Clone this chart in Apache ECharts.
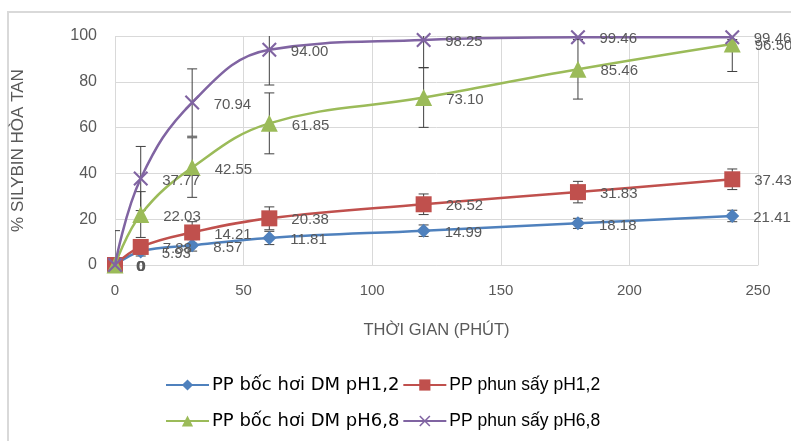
<!DOCTYPE html>
<html>
<head>
<meta charset="utf-8">
<script src="https://cdn.jsdelivr.net/npm/echarts@6/dist/echarts.min.js"></script>
<style>
html, body { margin: 0; padding: 0; background: #fff; }
#main { width: 791px; height: 441px; }
</style>
</head>
<body>
<div id="main"></div>
<script>
var times = [0, 10, 30, 60, 120, 180, 240];
var names = ['PP bốc hơi DM pH1,2', 'PP phun sấy pH1,2', 'PP bốc hơi DM pH6,8', 'PP phun sấy pH6,8'];
var colors = ['#4F81BD', '#C0504D', '#9BBB59', '#8064A2'];
var bocHoi12 = [0, 5.93, 8.57, 11.81, 14.99, 18.18, 21.41];
var phunSay12 = [0, 7.88, 14.21, 20.38, 26.52, 31.83, 37.43];
var bocHoi68 = [0, 22.03, 42.55, 61.85, 73.10, 85.46, 96.50];
var phunSay68 = [0, 37.77, 70.94, 94.00, 98.25, 99.46, 99.46];
var sdBocHoi12 = [0, 2, 2.5, 2.9, 2.5, 2.2, 2.5];
var sdPhunSay12 = [0, 3, 4.7, 5, 4.5, 4.7, 4.5];
var sdBocHoi68 = [15, 10, 13, 13.3, 13, 13, 12];
var sdPhunSay68 = [0, 14, 14.7, 15.4, 12, 1, 1];

var values = [bocHoi12, phunSay12, bocHoi68, phunSay68];
var sds = [sdBocHoi12, sdPhunSay12, sdBocHoi68, sdPhunSay68];
var symbols = [
    'diamond',
    'rect',
    'triangle',
    'path://M0,1L1,0L5,4L9,0L10,1L6,5L10,9L9,10L5,6L1,10L0,9L4,5Z'
];
var symbolSizes = [14, 16, 17, 15];
var font = '"Liberation Sans", Arial, sans-serif';
var wideFont = '"DejaVu Sans", sans-serif';

function pairs(ys) {
    return times.map(function (t, i) { return [t, ys[i]]; });
}

function errData(ys, sd) {
    return times.map(function (t, i) { return [t, ys[i] - sd[i], ys[i] + sd[i]]; });
}

function renderErr(params, api) {
    var lo = api.coord([api.value(0), api.value(1)]);
    var hi = api.coord([api.value(0), api.value(2)]);
    var w = 5;
    var st = { stroke: '#404040', lineWidth: 1 };
    return {
        type: 'group',
        children: [
            { type: 'line', shape: { x1: lo[0], y1: lo[1], x2: hi[0], y2: hi[1] }, style: st },
            { type: 'line', shape: { x1: lo[0] - w, y1: lo[1], x2: lo[0] + w, y2: lo[1] }, style: st },
            { type: 'line', shape: { x1: hi[0] - w, y1: hi[1], x2: hi[0] + w, y2: hi[1] }, style: st }
        ]
    };
}

var series = [];
values.forEach(function (ys, k) {
    series.push({
        type: 'custom',
        renderItem: renderErr,
        data: errData(ys, sds[k]),
        clip: true,
        silent: true,
        z: 1
    });
});
values.forEach(function (ys, k) {
    series.push({
        name: names[k],
        type: 'line',
        data: pairs(ys),
        smooth: 0.4,
        symbol: symbols[k],
        symbolSize: symbolSizes[k],
        showAllSymbol: true,
        color: colors[k],
        lineStyle: { width: 2.5, color: colors[k] },
        itemStyle: { color: colors[k] },
        z: 2 + k,
        label: {
            show: true,
            position: 'right',
            distance: 14,
            offset: [0, 2],
            color: '#595959',
            fontSize: 15,
            fontFamily: font,
            formatter: function (p) {
                return p.value[1] === 0 ? '0' : p.value[1].toFixed(2);
            }
        }
    });
});

function legendItem(i) {
    // the left column of the legend is set in a wider face than the right one
    var wide = i % 2 === 0;
    return {
        name: names[i],
        textStyle: {
            fontSize: wide ? 18 : 17.5,
            fontFamily: wide ? wideFont : font,
            color: '#000'
        }
    };
}

var legendBase = {
    left: 160,
    itemWidth: 43,
    itemHeight: 14,
    itemGap: 3,
    textStyle: { fontSize: 17, color: '#000', fontFamily: font, padding: [0, 0, 0, -2] }
};

var option = {
    animation: false,
    graphic: [{
        type: 'rect',
        shape: { x: 8, y: 12, width: 800, height: 450 },
        style: { fill: 'none', stroke: '#D9D9D9', lineWidth: 2 },
        silent: true
    }],
    grid: { left: 115, right: 33, top: 36, bottom: 176 },
    legend: [
        Object.assign({ top: 371, data: [legendItem(0), legendItem(1)] }, legendBase),
        Object.assign({ top: 407, data: [legendItem(2), legendItem(3)] }, legendBase)
    ],
    xAxis: {
        type: 'value',
        min: 0,
        max: 250,
        interval: 50,
        name: 'THỜI GIAN (PHÚT)',
        nameLocation: 'middle',
        nameGap: 57,
        nameTextStyle: { fontSize: 16.5, color: '#595959', fontFamily: font },
        axisLine: { show: true, lineStyle: { color: '#D9D9D9' } },
        axisTick: { show: false },
        axisLabel: { fontSize: 15, color: '#595959', fontFamily: font, margin: 18 },
        splitLine: { show: true, lineStyle: { color: '#D9D9D9' } }
    },
    yAxis: {
        type: 'value',
        min: 0,
        max: 100,
        interval: 20,
        name: '% SILYBIN HÒA TAN',
        nameLocation: 'middle',
        nameGap: 88,
        nameTextStyle: { fontSize: 17, color: '#595959', fontFamily: font },
        axisLine: { show: false },
        axisTick: { show: false },
        axisLabel: { fontSize: 16, color: '#595959', fontFamily: font, margin: 18 },
        splitLine: { show: true, lineStyle: { color: '#D9D9D9' } }
    },
    series: series
};

echarts.init(document.getElementById('main')).setOption(option);
</script>
</body>
</html>
